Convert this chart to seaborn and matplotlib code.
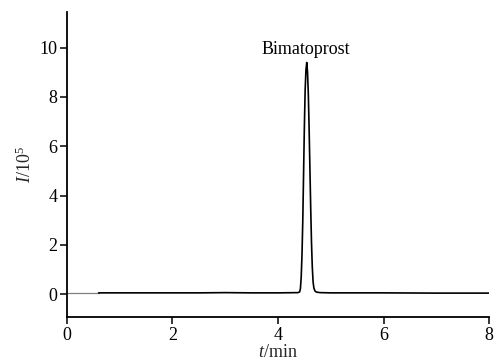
import matplotlib
matplotlib.use("Agg")
import matplotlib.pyplot as plt
import seaborn as sns
import pandas as pd

# Pre-run gray segment
pre_time = [0.0, 0.6]
pre_signal = [0.03, 0.03]

# Main chromatogram trace (t/min, I/10^5)
time_min = [0.6, 1.5, 2.5, 3.0, 3.5, 4.0, 4.38, 4.41, 4.425, 4.44, 4.455, 4.47, 4.485, 4.50,
            4.515, 4.53, 4.545, 4.56, 4.575, 4.59, 4.605, 4.62, 4.635, 4.65, 4.665, 4.68,
            4.70, 4.73, 4.80, 5.0, 6.0, 7.0, 8.0]
signal = [0.05, 0.05, 0.05, 0.06, 0.05, 0.05, 0.06, 0.09, 0.22, 0.7, 1.6, 3.0, 4.9, 6.8,
          8.3, 9.1, 9.4, 9.0, 8.1, 6.7, 5.1, 3.5, 2.1, 1.1, 0.5, 0.25,
          0.13, 0.08, 0.06, 0.05, 0.05, 0.04, 0.04]

peak_label = "Bimatoprost"
peak_pos = (4.53, 9.6)

x_ticks = [0, 2, 4, 6, 8]
y_ticks = [0, 2, 4, 6, 8, 10]

sns.set_theme(style="ticks")
plt.rcParams['font.family'] = ['Liberation Serif', 'DejaVu Serif']
plt.rcParams['mathtext.fontset'] = 'custom'
plt.rcParams['mathtext.rm'] = 'Liberation Serif'
plt.rcParams['mathtext.it'] = 'Liberation Serif:italic'

fig = plt.figure(figsize=(4.94, 3.60), dpi=100)
ax = fig.add_axes([0.1356, 0.1194, 0.9899 - 0.1356, 0.9667 - 0.1194])

pre_df = pd.DataFrame({"t": pre_time, "I": pre_signal})
main_df = pd.DataFrame({"t": time_min, "I": signal})
sns.lineplot(data=pre_df, x="t", y="I", ax=ax, color="#808080", lw=0.9)
sns.lineplot(data=main_df, x="t", y="I", ax=ax, color="black", lw=1.2)

ax.text(peak_pos[0], peak_pos[1], peak_label, ha="center", va="bottom", fontsize=13, color="black")

ax.set_xlim(0, 8)
ax.set_ylim(-0.93, 11.45)
ax.set_xticks(x_ticks)
ax.set_yticks(y_ticks)
ax.set_xticklabels([str(v) for v in x_ticks])
ax.set_yticklabels([str(v) for v in y_ticks])
ax.tick_params(axis="both", direction="out", length=5, width=1.1, labelsize=13, colors="black", pad=2)
for s in ["top", "right"]:
    ax.spines[s].set_visible(False)
for s in ["left", "bottom"]:
    ax.spines[s].set_linewidth(1.3)
    ax.spines[s].set_color("black")

ax.set_xlabel(r"$\mathit{t}$/min", fontsize=13, labelpad=0)
ax.set_ylabel(r"$\mathit{I}$/10$^5$", fontsize=13, labelpad=3)

fig.savefig("out.png", dpi=100)
